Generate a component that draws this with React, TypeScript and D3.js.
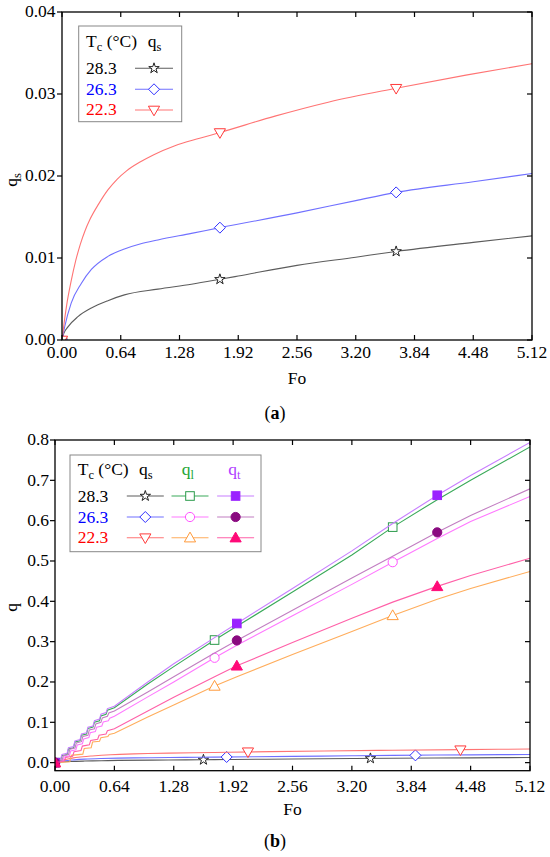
import React from 'react';
import * as d3 from 'd3';

type P = [number, number];

// ---------- ticks ----------
const xTicks = [0, 0.64, 1.28, 1.92, 2.56, 3.2, 3.84, 4.48, 5.12];
const xTickLabels = ['0.00', '0.64', '1.28', '1.92', '2.56', '3.20', '3.84', '4.48', '5.12'];
const yTicksA = [0, 0.01, 0.02, 0.03, 0.04];
const yTickLabelsA = ['0.00', '0.01', '0.02', '0.03', '0.04'];
const yTicksB = [0, 0.1, 0.2, 0.3, 0.4, 0.5, 0.6, 0.7, 0.8];
const yTickLabelsB = ['0.0', '0.1', '0.2', '0.3', '0.4', '0.5', '0.6', '0.7', '0.8'];
const temps = ['28.3', '26.3', '22.3'];

// ---------- q_s series ----------
const qs283: P[] = [[0, 0], [0.02, 0.0008], [0.065, 0.0016], [0.174, 0.00285], [0.32, 0.0039], [0.5, 0.0048], [0.68, 0.0055], [1.045, 0.0062], [1.41, 0.0068], [1.72, 0.0074], [1.92, 0.0078], [2.56, 0.0091], [3.2, 0.0101], [3.64, 0.0108], [4.48, 0.0119], [5.12, 0.0127]];
const qs263: P[] = [[0, 0], [0.029, 0.0016], [0.1, 0.0045], [0.21, 0.0069], [0.32, 0.0086], [0.5, 0.0102], [0.68, 0.0111], [0.85, 0.0117], [1.045, 0.0122], [1.41, 0.013], [1.72, 0.0137], [2.56, 0.0155], [3.2, 0.017], [3.64, 0.018], [4.48, 0.0193], [5.12, 0.0203]];
const qs223: P[] = [[0, 0], [0.02, 0.0018], [0.05, 0.0042], [0.1, 0.0072], [0.15, 0.0097], [0.2, 0.0117], [0.25, 0.0133], [0.3, 0.0146], [0.4, 0.0166], [0.5, 0.0183], [0.6, 0.0196], [0.7, 0.0206], [0.85, 0.0217], [1.0, 0.0226], [1.23, 0.0237], [1.5, 0.0246], [1.72, 0.0253], [2.32, 0.0273], [2.9, 0.029], [3.64, 0.0307], [4.4, 0.0323], [5.12, 0.0337]];

// ---------- q_l series ----------
const ql283: P[] = [[0, 0], [0.03, 0.003], [0.06, 0.006], [0.075, 0.017], [0.13, 0.02], [0.145, 0.034], [0.2, 0.037], [0.215, 0.051], [0.27, 0.054], [0.285, 0.068], [0.34, 0.071], [0.355, 0.085], [0.41, 0.088], [0.425, 0.1], [0.48, 0.104], [0.495, 0.116], [0.55, 0.12], [0.565, 0.13], [0.64, 0.136], [1.0, 0.195], [1.28, 0.238], [1.72, 0.304], [1.96, 0.338], [2.56, 0.423], [3.2, 0.515], [3.64, 0.584], [4.12, 0.652], [4.48, 0.7], [5.12, 0.783]];
const ql263: P[] = [[0, 0], [0.05, 0.002], [0.085, 0.004], [0.1, 0.014], [0.155, 0.017], [0.17, 0.029], [0.225, 0.032], [0.24, 0.044], [0.295, 0.047], [0.31, 0.059], [0.365, 0.062], [0.38, 0.074], [0.435, 0.077], [0.45, 0.088], [0.505, 0.091], [0.52, 0.101], [0.575, 0.104], [0.59, 0.11], [0.64, 0.115], [1.0, 0.163], [1.28, 0.2], [1.72, 0.26], [1.96, 0.291], [2.56, 0.364], [3.2, 0.442], [3.64, 0.497], [4.12, 0.556], [4.48, 0.598], [5.12, 0.66]];
const ql223: P[] = [[0, 0], [0.16, 0.002], [0.175, 0.018], [0.3, 0.021], [0.315, 0.035], [0.39, 0.037], [0.405, 0.051], [0.48, 0.053], [0.495, 0.062], [0.57, 0.065], [0.585, 0.07], [0.64, 0.073], [1.0, 0.113], [1.28, 0.143], [1.72, 0.19], [1.96, 0.213], [2.56, 0.268], [3.2, 0.325], [3.64, 0.365], [4.12, 0.405], [4.48, 0.432], [5.12, 0.474]];

// ---------- q_t series ----------
const qt283: P[] = [[0, 0], [0.03, 0.004], [0.06, 0.008], [0.075, 0.02], [0.13, 0.023], [0.145, 0.037], [0.2, 0.04], [0.215, 0.054], [0.27, 0.057], [0.285, 0.071], [0.34, 0.074], [0.355, 0.088], [0.41, 0.091], [0.425, 0.104], [0.48, 0.108], [0.495, 0.12], [0.55, 0.124], [0.565, 0.134], [0.64, 0.14], [1.0, 0.2], [1.28, 0.245], [1.72, 0.31], [1.96, 0.345], [2.56, 0.432], [3.2, 0.525], [3.64, 0.593], [4.12, 0.663], [4.48, 0.712], [5.12, 0.794]];
const qt263: P[] = [[0, 0], [0.04, 0.003], [0.075, 0.006], [0.09, 0.017], [0.145, 0.02], [0.16, 0.033], [0.215, 0.036], [0.23, 0.049], [0.285, 0.052], [0.3, 0.065], [0.355, 0.068], [0.37, 0.081], [0.425, 0.084], [0.44, 0.096], [0.495, 0.1], [0.51, 0.111], [0.565, 0.115], [0.58, 0.123], [0.64, 0.128], [1.0, 0.175], [1.28, 0.213], [1.72, 0.272], [1.96, 0.303], [2.56, 0.378], [3.2, 0.458], [3.64, 0.512], [4.12, 0.571], [4.48, 0.613], [5.12, 0.679]];
const qt223: P[] = [[0, 0], [0.06, 0.002], [0.1, 0.004], [0.115, 0.013], [0.19, 0.016], [0.205, 0.027], [0.28, 0.03], [0.295, 0.041], [0.37, 0.044], [0.385, 0.055], [0.46, 0.058], [0.475, 0.068], [0.55, 0.071], [0.565, 0.079], [0.64, 0.084], [1.0, 0.128], [1.28, 0.162], [1.72, 0.213], [1.96, 0.24], [2.56, 0.298], [3.2, 0.358], [3.64, 0.398], [4.12, 0.437], [4.48, 0.464], [5.12, 0.507]];

// ---------- marker positions ----------
const mkA283: P[] = [[0, 0], [1.72, 0.0074], [3.64, 0.0108]];
const mkA263: P[] = [[0, 0], [1.72, 0.0137], [3.64, 0.018]];
const mkA223: P[] = [[0, 0], [1.72, 0.0253], [3.64, 0.0307]];
const mkBs283: P[] = [[0, 0], [1.6, 0.007], [3.4, 0.0105]];
const mkBs263: P[] = [[0, 0], [1.85, 0.014], [3.885, 0.018]];
const mkBs223: P[] = [[0, 0], [2.08, 0.027], [4.37, 0.032]];
const mkBl283: P[] = [[0, 0], [1.72, 0.304], [3.64, 0.584]];
const mkBl263: P[] = [[0, 0], [1.72, 0.26], [3.64, 0.497]];
const mkBl223: P[] = [[0, 0], [1.72, 0.19], [3.64, 0.365]];
const mkBt283: P[] = [[0, 0], [1.96, 0.345], [4.12, 0.663]];
const mkBt263: P[] = [[0, 0], [1.96, 0.303], [4.12, 0.571]];
const mkBt223: P[] = [[0, 0], [1.96, 0.24], [4.12, 0.437]];

const FONT = '"Liberation Serif", "Times New Roman", serif';
const FS = 17.5;

type Shape = 'star' | 'diamond' | 'triDown' | 'square' | 'circle' | 'triUp';

interface Style { line: string; mark: string; shape: Shape; filled: boolean; }

const S = {
  s283: { line: '#5c5c5c', mark: '#222222', shape: 'star', filled: false } as Style,
  s263: { line: '#7070ff', mark: '#3030ff', shape: 'diamond', filled: false } as Style,
  s223: { line: '#ff7474', mark: '#ff3a3a', shape: 'triDown', filled: false } as Style,
  l283: { line: '#3aaa5a', mark: '#2a9a4a', shape: 'square', filled: false } as Style,
  l263: { line: '#ff78ff', mark: '#ff55ff', shape: 'circle', filled: false } as Style,
  l223: { line: '#ffad5c', mark: '#ff9a3a', shape: 'triUp', filled: false } as Style,
  t283: { line: '#c87eff', mark: '#9a22ff', shape: 'square', filled: true } as Style,
  t263: { line: '#c27ec2', mark: '#8a0a80', shape: 'circle', filled: true } as Style,
  t223: { line: '#ff60a8', mark: '#ff0a78', shape: 'triUp', filled: true } as Style,
};

const starPath = d3.symbol().type(d3.symbolStar).size(34)() as string;

function Marker({ x, y, st }: { x: number; y: number; st: Style }) {
  const fill = st.filled ? st.mark : '#ffffff';
  const common = { fill, stroke: st.mark, strokeWidth: 1 };
  switch (st.shape) {
    case 'star':
      return <path d={starPath} transform={`translate(${x},${y})`} {...common} />;
    case 'diamond':
      return <path d="M0,-5.5L5.5,0L0,5.5L-5.5,0Z" transform={`translate(${x},${y})`} {...common} />;
    case 'triDown':
      return <path d="M-5.6,-3.8L5.6,-3.8L0,5.8Z" transform={`translate(${x},${y})`} {...common} />;
    case 'triUp':
      return <path d="M-5.6,4.2L5.6,4.2L0,-5.6Z" transform={`translate(${x},${y})`} {...common} />;
    case 'square':
      return <rect x={x - 4.3} y={y - 4.3} width={8.6} height={8.6} {...common} />;
    case 'circle':
    default:
      return <circle cx={x} cy={y} r={4.6} {...common} />;
  }
}

interface Frame { left: number; right: number; top: number; bottom: number; }

function Axes({ f, x, y, yTicks, yLabels, yLabelX, xLabelY }: {
  f: Frame; x: d3.ScaleLinear<number, number>; y: d3.ScaleLinear<number, number>;
  yTicks: number[]; yLabels: string[]; yLabelX: number; xLabelY: number;
}) {
  const tl = 5;
  return (
    <g>
      {xTicks.map((t, i) => (
        <g key={'x' + i}>
          <line x1={x(t)} x2={x(t)} y1={f.bottom} y2={f.bottom - tl} stroke="#000" strokeWidth={1.2} />
          <line x1={x(t)} x2={x(t)} y1={f.top} y2={f.top + tl} stroke="#000" strokeWidth={1.2} />
          <text x={x(t)} y={xLabelY} textAnchor="middle" fontSize={FS} fontFamily={FONT}>{xTickLabels[i]}</text>
        </g>
      ))}
      {yTicks.map((t, i) => (
        <g key={'y' + i}>
          <line x1={f.left - tl} x2={f.left} y1={y(t)} y2={y(t)} stroke="#000" strokeWidth={1.2} />
          <line x1={f.right - tl} x2={f.right} y1={y(t)} y2={y(t)} stroke="#000" strokeWidth={1.2} />
          <text x={yLabelX} y={y(t)} dy="0.3em" textAnchor="end" fontSize={FS} fontFamily={FONT}>{yLabels[i]}</text>
        </g>
      ))}
      <rect x={f.left} y={f.top} width={f.right - f.left} height={f.bottom - f.top} fill="none" stroke="#000" strokeWidth={1.3} />
    </g>
  );
}

function Series({ data, marks, st, x, y, smooth, clip }: {
  data: P[]; marks: P[]; st: Style; x: d3.ScaleLinear<number, number>; y: d3.ScaleLinear<number, number>; smooth: boolean; clip: string;
}) {
  const gen = d3.line<P>().x(d => x(d[0])).y(d => y(d[1])).curve(smooth ? d3.curveMonotoneX : d3.curveLinear);
  return (
    <g clipPath={`url(#${clip})`}>
      <path d={gen(data) as string} fill="none" stroke={st.line} strokeWidth={1.1} />
      {marks.map((m, i) => <Marker key={i} x={x(m[0])} y={y(m[1])} st={st} />)}
    </g>
  );
}

function LegendRow({ xs, y, styles, half }: { xs: number[]; y: number; styles: Style[]; half: number }) {
  return (
    <g>
      {xs.map((cx, i) => (
        <g key={i}>
          <line x1={cx - half} x2={cx + half} y1={y} y2={y} stroke={styles[i].line} strokeWidth={1.1} />
          <Marker x={cx} y={y} st={styles[i]} />
        </g>
      ))}
    </g>
  );
}

export default function App() {
  // ---- chart (a) ----
  const fA: Frame = { left: 62, right: 532, top: 12, bottom: 340 };
  const xA = d3.scaleLinear().domain([0, 5.12]).range([fA.left, fA.right]);
  const yA = d3.scaleLinear().domain([0, 0.04]).range([fA.bottom, fA.top]);

  // ---- chart (b) ----
  const fB: Frame = { left: 55, right: 530, top: 440, bottom: 770.7 };
  const xB = d3.scaleLinear().domain([0, 5.12]).range([fB.left, fB.right]);
  const yB = d3.scaleLinear().domain([-0.02, 0.8]).range([fB.bottom, fB.top]);

  const colors = ['#000000', '#0000ff', '#ff0000'];

  return (
    <div style={{ position: 'absolute', left: 0, top: 0 }}>
      <svg width={550} height={857} style={{ display: 'block', background: '#fff' }} fontFamily={FONT}>
        <defs>
          <clipPath id="clipA"><rect x={fA.left} y={fA.top} width={fA.right - fA.left} height={fA.bottom - fA.top} /></clipPath>
          <clipPath id="clipB"><rect x={fB.left} y={fB.top} width={fB.right - fB.left} height={fB.bottom - fB.top} /></clipPath>
        </defs>
        <rect x={0} y={0} width={550} height={857} fill="#fff" />

        {/* ===== Chart (a) ===== */}
        <Series data={qs283} marks={mkA283} st={S.s283} x={xA} y={yA} smooth clip="clipA" />
        <Series data={qs263} marks={mkA263} st={S.s263} x={xA} y={yA} smooth clip="clipA" />
        <Series data={qs223} marks={mkA223} st={S.s223} x={xA} y={yA} smooth clip="clipA" />
        <Axes f={fA} x={xA} y={yA} yTicks={yTicksA} yLabels={yTickLabelsA} yLabelX={55.5} xLabelY={358} />
        <text x={(fA.left + fA.right) / 2} y={384} textAnchor="middle" fontSize={FS}>Fo</text>
        <text transform={`translate(16.5,${(fA.top + fA.bottom) / 2 + 4}) rotate(-90)`} textAnchor="middle" fontSize={FS}>
          q<tspan fontSize={12.5} dy={4}>s</tspan>
        </text>
        {/* legend (a) */}
        <rect x={78.7} y={26} width={103} height={95.7} fill="#fff" stroke="#888" strokeWidth={1} />
        <text x={86} y={46.7} fontSize={FS}>T<tspan fontSize={12.5} dy={4}>c</tspan><tspan dy={-4}> (°C)</tspan></text>
        <text x={147.7} y={46.7} fontSize={FS}>q<tspan fontSize={12.5} dy={4}>s</tspan></text>
        {temps.map((t, i) => (
          <text key={t} x={86} y={74 + i * 20.6} fontSize={FS} fill={colors[i]}>{t}</text>
        ))}
        <LegendRow xs={[154]} y={68.3} styles={[S.s283]} half={19} />
        <LegendRow xs={[154]} y={89.3} styles={[S.s263]} half={19} />
        <LegendRow xs={[154]} y={110} styles={[S.s223]} half={19} />
        <text x={275} y={419} textAnchor="middle" fontSize={18}>(<tspan fontWeight="bold">a</tspan>)</text>

        {/* ===== Chart (b) ===== */}
        <Series data={qs283} marks={mkBs283} st={S.s283} x={xB} y={yB} smooth clip="clipB" />
        <Series data={qs263} marks={mkBs263} st={S.s263} x={xB} y={yB} smooth clip="clipB" />
        <Series data={qs223} marks={mkBs223} st={S.s223} x={xB} y={yB} smooth clip="clipB" />
        <Series data={ql283} marks={mkBl283} st={S.l283} x={xB} y={yB} smooth={false} clip="clipB" />
        <Series data={ql263} marks={mkBl263} st={S.l263} x={xB} y={yB} smooth={false} clip="clipB" />
        <Series data={ql223} marks={mkBl223} st={S.l223} x={xB} y={yB} smooth={false} clip="clipB" />
        <Series data={qt283} marks={mkBt283} st={S.t283} x={xB} y={yB} smooth={false} clip="clipB" />
        <Series data={qt263} marks={mkBt263} st={S.t263} x={xB} y={yB} smooth={false} clip="clipB" />
        <Series data={qt223} marks={mkBt223} st={S.t223} x={xB} y={yB} smooth={false} clip="clipB" />
        <Axes f={fB} x={xB} y={yB} yTicks={yTicksB} yLabels={yTickLabelsB} yLabelX={49} xLabelY={791.5} />
        <text x={(fB.left + fB.right) / 2} y={815} textAnchor="middle" fontSize={FS}>Fo</text>
        <text transform={`translate(16.5,${(fB.top + fB.bottom) / 2 + 2}) rotate(-90)`} textAnchor="middle" fontSize={FS}>q</text>
        {/* legend (b) */}
        <rect x={70} y={455} width={191} height={96.7} fill="#fff" stroke="#888" strokeWidth={1} />
        <text x={77.7} y={475} fontSize={FS}>T<tspan fontSize={12.5} dy={4}>c</tspan><tspan dy={-4}> (°C)</tspan></text>
        <text x={139} y={475} fontSize={FS}>q<tspan fontSize={12.5} dy={4}>s</tspan></text>
        <text x={181.7} y={475} fontSize={FS} fill="#22a632">q<tspan fontSize={12.5} dy={4}>l</tspan></text>
        <text x={228.3} y={475} fontSize={FS} fill="#b040ff">q<tspan fontSize={12.5} dy={4}>t</tspan></text>
        {temps.map((t, i) => (
          <text key={t} x={77.7} y={501.7 + i * 20.8} fontSize={FS} fill={colors[i]}>{t}</text>
        ))}
        <LegendRow xs={[145.3, 190, 235.6]} y={496} styles={[S.s283, S.l283, S.t283]} half={18.5} />
        <LegendRow xs={[145.3, 190, 235.6]} y={517} styles={[S.s263, S.l263, S.t263]} half={18.5} />
        <LegendRow xs={[145.3, 190, 235.6]} y={537.7} styles={[S.s223, S.l223, S.t223]} half={18.5} />
        <text x={275} y={847} textAnchor="middle" fontSize={18}>(<tspan fontWeight="bold">b</tspan>)</text>
      </svg>
    </div>
  );
}
